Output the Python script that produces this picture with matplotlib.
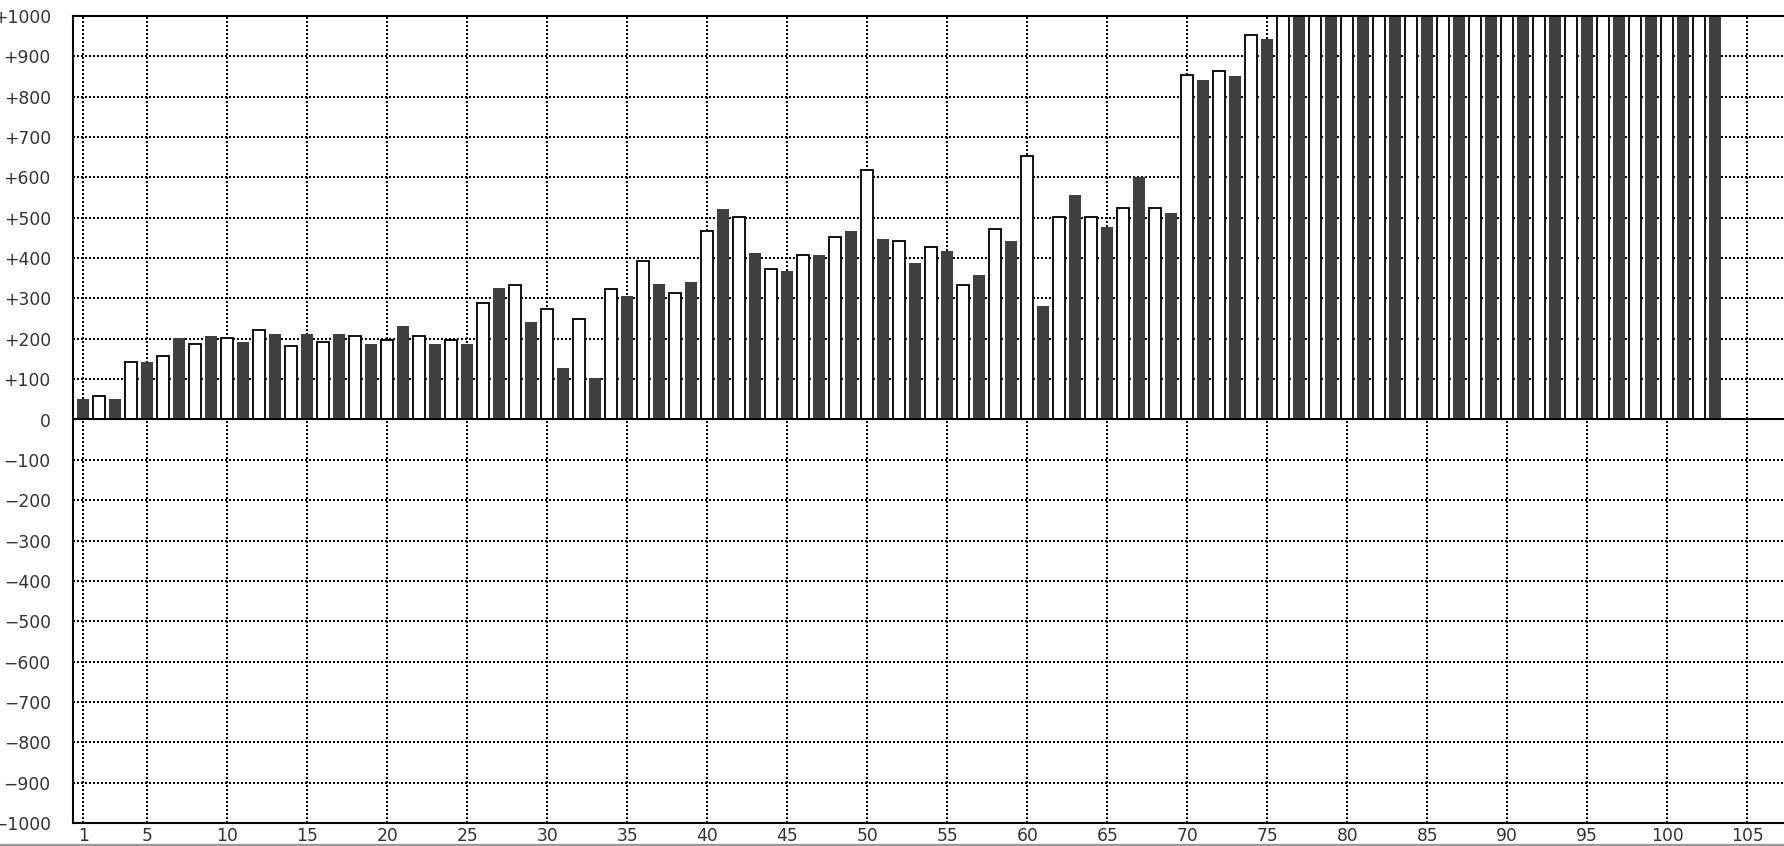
import matplotlib
matplotlib.use("Agg")
import matplotlib.pyplot as plt
from matplotlib.patches import Rectangle

# bar heights, position 1..103 (odd = dark, even = white)
values = [52, 58, 52, 143, 142, 158, 202, 188, 207, 203,
          192, 223, 212, 183, 212, 193, 212, 208, 187, 198,
          232, 208, 187, 198, 187, 288, 327, 333, 242, 273,
          127, 248, 102, 323, 307, 393, 337, 313, 342, 468,
          522, 503, 412, 373, 367, 408, 407, 453, 467, 618,
          447, 443, 387, 428, 417, 333, 357, 473, 442, 653,
          282, 503, 557, 503, 477, 523, 602, 523, 512, 853,
          841, 864, 851, 954, 942, 1000, 1000, 1000, 1000, 1000,
          1000, 1000, 1000, 1000, 1000, 1000, 1000, 1000, 1000, 1000,
          1000, 1000, 1000, 1000, 1000, 1000, 1000, 1000, 1000, 1000,
          1000, 1000, 1000]
positions = list(range(1, len(values) + 1))

xticks = [1, 5, 10, 15, 20, 25, 30, 35, 40, 45, 50, 55,
          60, 65, 70, 75, 80, 85, 90, 95, 100, 105]
yticks = list(range(-1000, 1001, 100))


def ylab(v):
    if v == 0:
        return "0"
    return ("+%d" % v) if v > 0 else ("\u2212%d" % -v)


W, H = 1784, 846
fig = plt.figure(figsize=(W / 100, H / 100), dpi=100)
ax = fig.add_axes([73 / W, 1 - 823 / H, 1 - 73 / W, (823 - 16) / H])

odd_x = [p for p in positions if p % 2 == 1]
odd_v = [values[p - 1] for p in odd_x]
even_x = [p for p in positions if p % 2 == 0]
even_v = [values[p - 1] for p in even_x]

ax.bar(odd_x, odd_v, width=0.75, color="#404040", zorder=2)
ax.bar(even_x, even_v, width=0.75, color="white", edgecolor="black",
       linewidth=1.3, zorder=2)
ax.axhline(0, color="black", linewidth=1.5, zorder=3)

ax.set_xlim(0.35, 107.3)
ax.set_ylim(-1000, 1000)
ax.set_xticks(xticks)
ax.set_yticks(yticks)
ax.set_yticklabels([ylab(v) for v in yticks])
ax.set_axisbelow(True)
ax.grid(True, color="black", linestyle=(0, (1, 1)), linewidth=1.44)

for s in ["left", "top", "bottom"]:
    ax.spines[s].set_linewidth(1.5)
ax.spines["right"].set_visible(False)

ax.tick_params(axis="both", length=0, labelsize=12.3, labelcolor="#333333")
ax.tick_params(axis="y", pad=16)
ax.tick_params(axis="x", pad=3)

fig.add_artist(Rectangle((0, 0), 1, 2 / H, transform=fig.transFigure,
                         color="#999999"))

fig.savefig("out.png", dpi=100)
